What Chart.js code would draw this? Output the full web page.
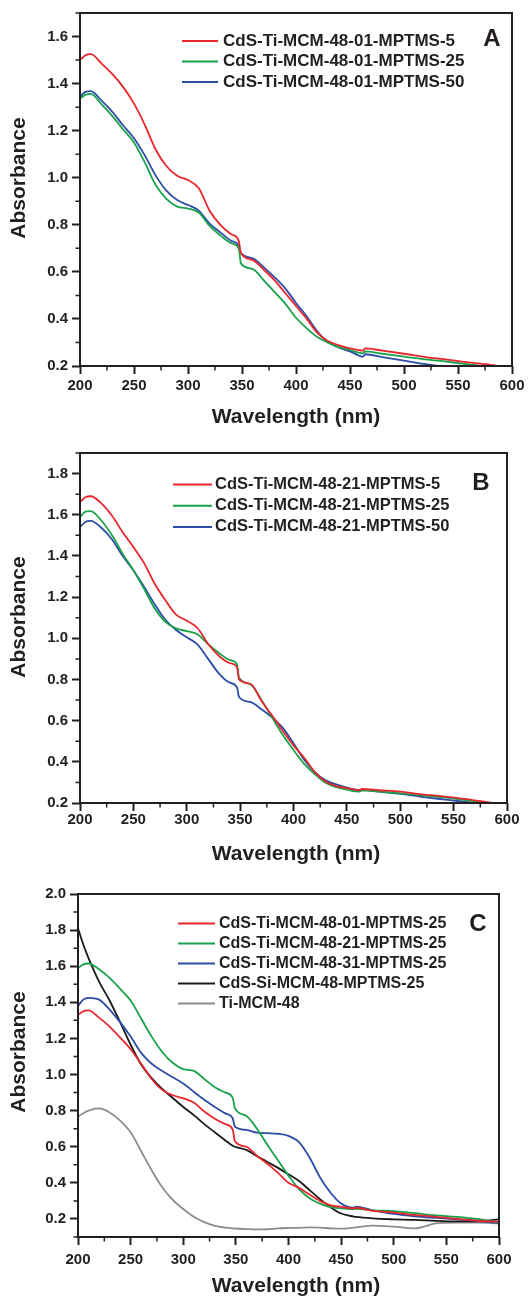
<!DOCTYPE html>
<html>
<head>
<meta charset="utf-8">
<script src="https://cdn.jsdelivr.net/npm/chart.js@4.4.1/dist/chart.umd.min.js"></script>
<style>
  html, body { margin: 0; padding: 0; background: #fff; }
  body { width: 528px; height: 1298px; position: relative; overflow: hidden; }
  canvas { position: absolute; left: 0; }
</style>
</head>
<body>
<canvas id="panelA" width="528" height="430" style="top:0px"></canvas>
<canvas id="panelB" width="528" height="438" style="top:430px"></canvas>
<canvas id="panelC" width="528" height="430" style="top:868px"></canvas>
<script>
const FONT = '"Liberation Sans", Arial, Helvetica, sans-serif';
const INK = '#231f20';
const RED = '#e8262b', GREEN = '#18a24b', BLUE = '#2c4da6', BLACK = '#1a1a1a', GREY = '#8c8c8c';

// wavelength grid (nm), shared by all spectra
const wavelength = [200, 205, 210, 220, 230, 240, 250, 260, 270, 280, 290, 300, 310, 320, 330, 340, 347, 349,
  360, 370, 380, 390, 400, 410, 420, 430, 440, 450, 462, 464, 480, 500, 520, 540, 560, 580, 600];

const xTicks = [200, 250, 300, 350, 400, 450, 500, 550, 600];
const xMinor = [225, 275, 325, 375, 425, 475, 525, 575];

// panel A
const labelsA = ['CdS-Ti-MCM-48-01-MPTMS-5', 'CdS-Ti-MCM-48-01-MPTMS-25', 'CdS-Ti-MCM-48-01-MPTMS-50'];
const a01_5 = [1.500, 1.520, 1.525, 1.485, 1.440, 1.385, 1.315, 1.225, 1.120, 1.050, 1.008, 0.990, 0.955, 0.860, 0.800, 0.760, 0.732, 0.680,
  0.650, 0.610, 0.565, 0.510, 0.455, 0.400, 0.340, 0.305, 0.288, 0.275, 0.265, 0.275, 0.265, 0.252, 0.238, 0.227, 0.215, 0.205, 0.190];
const a01_25 = [1.337, 1.352, 1.356, 1.312, 1.262, 1.205, 1.150, 1.065, 0.970, 0.910, 0.877, 0.869, 0.852, 0.795, 0.755, 0.722, 0.700, 0.636,
  0.612, 0.565, 0.515, 0.465, 0.405, 0.360, 0.322, 0.298, 0.280, 0.268, 0.254, 0.262, 0.252, 0.240, 0.228, 0.218, 0.207, 0.195, 0.180];
const a01_50 = [1.344, 1.365, 1.368, 1.328, 1.280, 1.222, 1.168, 1.095, 1.010, 0.945, 0.905, 0.884, 0.860, 0.805, 0.768, 0.732, 0.712, 0.680,
  0.658, 0.620, 0.578, 0.530, 0.468, 0.410, 0.345, 0.300, 0.278, 0.262, 0.240, 0.250, 0.238, 0.223, 0.208, 0.195, 0.185, 0.178, 0.170];
const yTicksA = [0.2, 0.4, 0.6, 0.8, 1.0, 1.2, 1.4, 1.6];
const yMinorA = [0.3, 0.5, 0.7, 0.9, 1.1, 1.3, 1.5, 1.7];

// panel B
const labelsB = ['CdS-Ti-MCM-48-21-MPTMS-5', 'CdS-Ti-MCM-48-21-MPTMS-25', 'CdS-Ti-MCM-48-21-MPTMS-50'];
const b21_5 = [1.661, 1.685, 1.690, 1.655, 1.595, 1.515, 1.443, 1.365, 1.265, 1.185, 1.115, 1.085, 1.050, 0.972, 0.915, 0.880, 0.860, 0.800,
  0.778, 0.695, 0.625, 0.550, 0.480, 0.420, 0.350, 0.305, 0.282, 0.272, 0.262, 0.268, 0.262, 0.255, 0.242, 0.232, 0.220, 0.205, 0.190];
const b21_25 = [1.588, 1.615, 1.618, 1.572, 1.500, 1.410, 1.330, 1.240, 1.145, 1.080, 1.048, 1.035, 1.020, 0.972, 0.930, 0.895, 0.875, 0.810,
  0.775, 0.700, 0.615, 0.530, 0.457, 0.390, 0.340, 0.298, 0.277, 0.265, 0.255, 0.262, 0.255, 0.247, 0.237, 0.228, 0.215, 0.201, 0.190];
const b21_50 = [1.540, 1.565, 1.570, 1.537, 1.480, 1.400, 1.330, 1.250, 1.165, 1.090, 1.040, 1.005, 0.970, 0.900, 0.830, 0.785, 0.763, 0.715,
  0.690, 0.655, 0.615, 0.565, 0.490, 0.410, 0.350, 0.310, 0.290, 0.275, 0.263, 0.265, 0.255, 0.244, 0.230, 0.218, 0.206, 0.195, 0.185];
const yTicksB = [0.2, 0.4, 0.6, 0.8, 1.0, 1.2, 1.4, 1.6, 1.8];
const yMinorB = [0.3, 0.5, 0.7, 0.9, 1.1, 1.3, 1.5, 1.7, 1.9];

// panel C
const labelsC = ['CdS-Ti-MCM-48-01-MPTMS-25', 'CdS-Ti-MCM-48-21-MPTMS-25', 'CdS-Ti-MCM-48-31-MPTMS-25', 'CdS-Si-MCM-48-MPTMS-25', 'Ti-MCM-48'];
const c01 = [1.330, 1.350, 1.355, 1.315, 1.265, 1.205, 1.140, 1.060, 0.975, 0.915, 0.885, 0.868, 0.845, 0.795, 0.755, 0.725, 0.695, 0.632,
  0.600, 0.550, 0.505, 0.455, 0.400, 0.372, 0.335, 0.300, 0.275, 0.267, 0.258, 0.262, 0.245, 0.235, 0.222, 0.212, 0.200, 0.190, 0.185];
const c21 = [1.589, 1.610, 1.615, 1.583, 1.535, 1.475, 1.410, 1.310, 1.210, 1.125, 1.065, 1.030, 1.020, 0.975, 0.930, 0.900, 0.870, 0.815,
  0.770, 0.700, 0.610, 0.525, 0.440, 0.365, 0.315, 0.285, 0.265, 0.259, 0.254, 0.256, 0.248, 0.243, 0.232, 0.220, 0.212, 0.200, 0.180];
const c31 = [1.380, 1.415, 1.425, 1.415, 1.360, 1.290, 1.210, 1.120, 1.060, 1.020, 0.985, 0.950, 0.905, 0.860, 0.820, 0.785, 0.758, 0.712,
  0.693, 0.678, 0.675, 0.672, 0.660, 0.625, 0.540, 0.430, 0.345, 0.285, 0.262, 0.268, 0.248, 0.228, 0.215, 0.206, 0.198, 0.190, 0.176];
const cSi = [1.810, 1.720, 1.645, 1.515, 1.410, 1.290, 1.165, 1.055, 0.980, 0.920, 0.870, 0.820, 0.775, 0.725, 0.680, 0.635, 0.605, 0.600,
  0.583, 0.548, 0.515, 0.483, 0.447, 0.410, 0.360, 0.310, 0.265, 0.230, 0.213, 0.211, 0.203, 0.198, 0.195, 0.189, 0.186, 0.186, 0.198];
const cTi = [0.767, 0.785, 0.800, 0.812, 0.790, 0.745, 0.680, 0.575, 0.470, 0.375, 0.305, 0.255, 0.212, 0.182, 0.162, 0.152, 0.148, 0.147,
  0.144, 0.142, 0.143, 0.148, 0.150, 0.151, 0.153, 0.152, 0.148, 0.146, 0.152, 0.153, 0.163, 0.157, 0.148, 0.175, 0.180, 0.180, 0.176];
const yTicksC = [0.2, 0.4, 0.6, 0.8, 1.0, 1.2, 1.4, 1.6, 1.8, 2.0];
const yMinorC = [0.1, 0.3, 0.5, 0.7, 0.9, 1.1, 1.3, 1.5, 1.7, 1.9];

const toPoints = (vals) => wavelength.map((x, i) => ({ x, y: vals[i] }));

// frame, minor ticks, legend, panel letter and axis titles
const decorations = {
  id: 'decorations',
  afterDraw(chart, args, o) {
    const { ctx, chartArea: a, scales: { x, y } } = chart;
    ctx.save();
    ctx.strokeStyle = INK;
    ctx.lineWidth = 2;
    ctx.strokeRect(a.left, a.top, a.right - a.left, a.bottom - a.top);

    ctx.lineWidth = 1.5;
    ctx.beginPath();
    o.xMinor.forEach(v => {
      const px = x.getPixelForValue(v);
      ctx.moveTo(px, a.bottom);
      ctx.lineTo(px, a.bottom + 4.5);
    });
    o.yMinor.forEach(v => {
      const py = y.getPixelForValue(v);
      ctx.moveTo(a.left, py);
      ctx.lineTo(a.left - 4.5, py);
    });
    ctx.stroke();

    // legend
    ctx.font = `bold ${o.legend.size}px ${FONT}`;
    ctx.textBaseline = 'middle';
    ctx.textAlign = 'left';
    chart.data.datasets.forEach((ds, i) => {
      const ry = o.legend.top + i * o.legend.step;
      ctx.strokeStyle = ds.borderColor;
      ctx.lineWidth = 2;
      ctx.beginPath();
      ctx.moveTo(o.legend.x0, ry);
      ctx.lineTo(o.legend.x1, ry);
      ctx.stroke();
      ctx.fillStyle = INK;
      ctx.fillText(ds.label, o.legend.tx, ry);
    });

    ctx.fillStyle = INK;
    ctx.font = `bold 24px ${FONT}`;
    ctx.textAlign = 'center';
    ctx.fillText(o.letter.text, o.letter.x, o.letter.y);

    ctx.font = `bold 21px ${FONT}`;
    ctx.textBaseline = 'alphabetic';
    ctx.fillText('Wavelength (nm)', o.xTitle.x, o.xTitle.y);
    ctx.save();
    ctx.translate(o.yTitle.x, o.yTitle.y);
    ctx.rotate(-Math.PI / 2);
    ctx.textBaseline = 'middle';
    ctx.fillText('Absorbance', 0, 0);
    ctx.restore();
    ctx.restore();
  }
};

function makePanel(id, p) {
  const tickFont = { family: FONT, size: 15, weight: 'bold' };
  const grid = { drawOnChartArea: false, drawTicks: true, tickLength: 8, tickWidth: 2, tickColor: INK, color: INK };
  return new Chart(document.getElementById(id), {
    type: 'line',
    data: {
      datasets: p.series.map((vals, i) => ({
        label: p.labels[i],
        data: toPoints(vals),
        borderColor: p.colors[i],
        borderWidth: 1.8,
        pointRadius: 0,
        fill: false,
        cubicInterpolationMode: 'monotone'
      }))
    },
    options: {
      responsive: false,
      animation: false,
      events: [],
      layout: { padding: { left: 0, right: p.right, top: p.top, bottom: 0 } },
      plugins: {
        legend: { display: false },
        tooltip: { enabled: false },
        decorations: p.deco
      },
      scales: {
        x: {
          type: 'linear', min: 200, max: 600,
          grid, border: { display: false },
          afterBuildTicks: s => { s.ticks = xTicks.map(v => ({ value: v })); },
          afterFit: s => { s.height = p.xHeight; },
          ticks: { font: tickFont, color: INK, padding: p.xPad, autoSkip: false, maxRotation: 0, callback: v => String(v) }
        },
        y: {
          type: 'linear', min: p.yMin, max: p.yMax,
          grid, border: { display: false },
          afterBuildTicks: s => { s.ticks = p.yTicks.map(v => ({ value: v })); },
          afterFit: s => { s.width = p.left; },
          ticks: { font: tickFont, color: INK, padding: 4, callback: v => v.toFixed(1) }
        }
      }
    },
    plugins: [decorations]
  });
}

makePanel('panelA', {
  series: [a01_5, a01_25, a01_50], labels: labelsA, colors: [RED, GREEN, BLUE],
  yMin: 0.2, yMax: 1.7, yTicks: yTicksA,
  left: 80, right: 16, top: 13, xHeight: 64, xPad: 3,
  deco: {
    xMinor, yMinor: yMinorA,
    legend: { x0: 182, x1: 218, tx: 223, top: 41, step: 20.5, size: 17 },
    letter: { text: 'A', x: 492, y: 39 },
    xTitle: { x: 296, y: 423 }, yTitle: { x: 19, y: 178 }
  }
});

makePanel('panelB', {
  series: [b21_5, b21_25, b21_50], labels: labelsB, colors: [RED, GREEN, BLUE],
  yMin: 0.2, yMax: 1.9, yTicks: yTicksB,
  left: 80, right: 21, top: 23, xHeight: 65, xPad: 0,
  deco: {
    xMinor, yMinor: yMinorB,
    legend: { x0: 173, x1: 212, tx: 215, top: 54.5, step: 21.2, size: 16.5 },
    letter: { text: 'B', x: 481, y: 53 },
    xTitle: { x: 296, y: 430 }, yTitle: { x: 19, y: 187 }
  }
});

makePanel('panelC', {
  series: [c01, c21, c31, cSi, cTi], labels: labelsC, colors: [RED, GREEN, BLUE, BLACK, GREY],
  yMin: 0.1, yMax: 2.0, yTicks: yTicksC,
  left: 78, right: 29, top: 26, xHeight: 61, xPad: 6,
  deco: {
    xMinor, yMinor: yMinorC,
    legend: { x0: 178, x1: 215, tx: 219, top: 55.5, step: 20, size: 16 },
    letter: { text: 'C', x: 478, y: 56 },
    xTitle: { x: 296, y: 424 }, yTitle: { x: 19, y: 184 }
  }
});
</script>
</body>
</html>
